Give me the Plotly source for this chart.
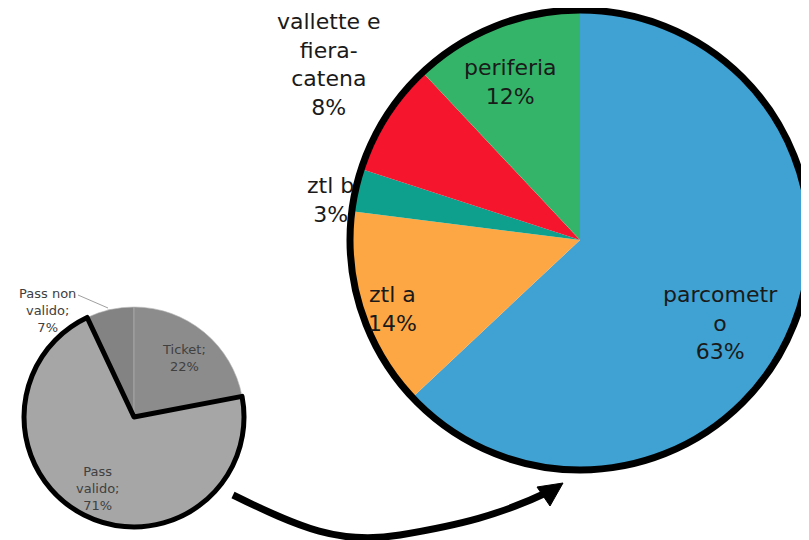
import plotly.graph_objects as go

W, H = 809, 540
OFF = 8  # browser default body margin shifts the figure by 8px

# Big pie data (clockwise from 12 o'clock)
big_labels = ["parcometro", "ztl a", "ztl b", "vallette e fiera-catena", "periferia"]
big_display = ["parcometr<br>o", "ztl a", "ztl b", "vallette e<br>fiera-<br>catena", "periferia"]
big_values = [63, 14, 3, 8, 12]
big_colors = ["#3FA2D3", "#FDA744", "#0FA08D", "#F5152D", "#33B468"]

# Small pie data (drawn starting with "Pass non valido" so the outlined slice is drawn last)
small_labels = ["Pass non valido", "Ticket", "Pass valido"]
small_display = ["Pass non<br>valido;", "Ticket;", "Pass<br>valido;"]
small_values = [7, 22, 71]
small_colors = ["#838383", "#8C8C8C", "#A6A6A6"]


def px(x):
    return (x - OFF) / W


def py(y):
    return 1 - (y - OFF) / H


FONT = "'DejaVu Sans', sans-serif"

fig = go.Figure()

big_dom = dict(x=[px(350), px(810)], y=[py(470), py(10)])
small_dom = dict(x=[px(24), px(244)], y=[py(527), py(307)])

fig.add_trace(go.Pie(
    labels=big_labels, values=big_values, sort=False, direction="clockwise", rotation=0,
    marker=dict(colors=big_colors, line=dict(width=0)),
    textinfo="none", hoverinfo="label+percent", domain=big_dom, showlegend=False,
))
# outer outline of the big pie
fig.add_trace(go.Pie(
    labels=["outline"], values=[1], sort=False,
    marker=dict(colors=["rgba(0,0,0,0)"], line=dict(color="black", width=7)),
    textinfo="none", hoverinfo="skip", domain=big_dom, showlegend=False,
))

fig.add_trace(go.Pie(
    labels=small_labels, values=small_values, sort=False, direction="clockwise",
    rotation=-small_values[0] * 3.6,
    marker=dict(colors=small_colors,
                line=dict(color=["#B5B5B5", "#B5B5B5", "black"], width=[0.6, 0.6, 5])),
    textinfo="none", hoverinfo="label+percent", domain=small_dom, showlegend=False,
))

annotations = []
# big pie labels: centre of each text block
big_pos = [(720, 323), (392, 309), (330, 200), (329, 64), (510, 82)]
for disp, v, (x, y) in zip(big_display, big_values, big_pos):
    annotations.append(dict(
        x=px(x), y=py(y), xref="paper", yref="paper", showarrow=False,
        text=f"{disp}<br>{v}%", align="center", xanchor="center", yanchor="middle",
        font=dict(family=FONT, size=22, color="#1a1a1a"),
    ))

small_pos = [(47, 310), (184, 358), (97, 488)]
for disp, v, (x, y) in zip(small_display, small_values, small_pos):
    annotations.append(dict(
        x=px(x), y=py(y), xref="paper", yref="paper", showarrow=False,
        text=f"{disp}<br>{v}%", align="center", xanchor="center", yanchor="middle",
        font=dict(family=FONT, size=13, color="#404040"),
    ))

shapes = [
    # leader line for "Pass non valido"
    dict(type="line", xref="paper", yref="paper", x0=px(78), y0=py(295), x1=px(108), y1=py(308),
         line=dict(color="#A0A0A0", width=1)),
    # curved arrow body
    dict(type="path", xref="paper", yref="paper",
         path=(f"M {px(233)},{py(495)} C {px(300)},{py(528)} {px(340)},{py(545)} {px(400)},{py(535)} "
               f"S {px(500)},{py(515)} {px(548)},{py(492)}"),
         line=dict(color="black", width=7)),
    # arrow head
    dict(type="path", xref="paper", yref="paper",
         path=f"M {px(563)},{py(483)} L {px(537)},{py(487)} L {px(550)},{py(506)} Z",
         fillcolor="black", line=dict(color="black", width=1)),
]

fig.update_layout(
    width=W, height=H, margin=dict(l=0, r=0, t=0, b=0),
    paper_bgcolor="white", plot_bgcolor="white",
    annotations=annotations, shapes=shapes, showlegend=False,
)

fig.write_html("out.html")
